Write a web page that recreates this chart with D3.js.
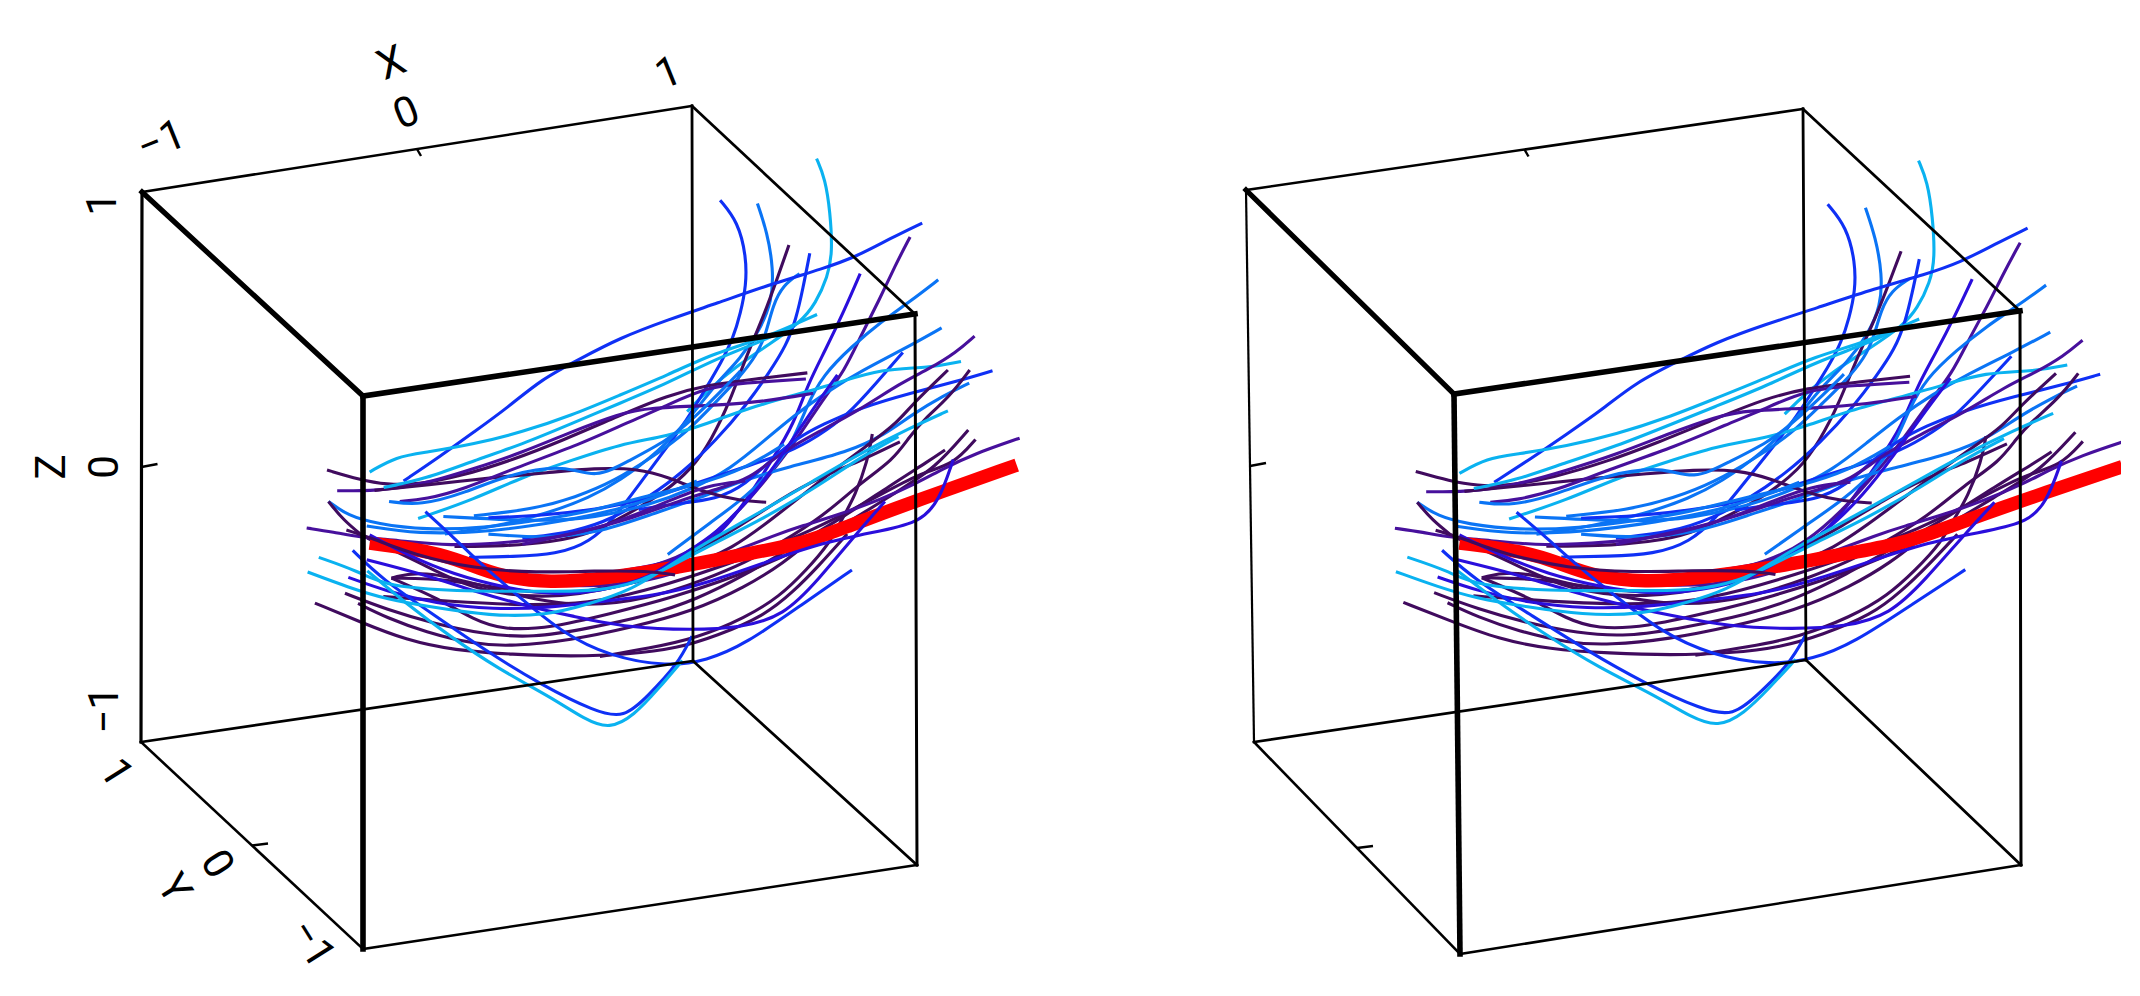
<!DOCTYPE html>
<meta charset="utf-8">
<style>
  html, body { margin: 0; background: #fff; }
  text { font-family: Roboto, sans-serif; font-size: 42px; fill: #000; }
</style>

<body>
  <script src="https://d3js.org/d3.v7.min.js"></script>
  <script>
    // tick labels, axis names (same order as tickValues)
    var tickValues = [-1, 0, 1]
    var tickLabels = ["−1", "0", "1"]

    // fibre tracks in projected units (0..1568 across and down)
    var curvePoints = [
      [[1107,70],[1125,120],[1135,200],[1140,300],[1130,360],[1105,425],[1075,470],[1010,525],[940,580],[880,640],[840,690]],
      [[908,172],[945,225],[962,310],[962,380],[950,450],[935,510],[910,570],[880,630],[840,710],[790,790],[740,870],[690,950],[640,1010],[570,1040],[480,1045],[390,1047]],
      [[985,180],[1005,250],[1018,340],[1015,420],[990,490],[950,560],[900,620],[850,700],[780,790],[700,860],[640,900],[550,940],[450,970],[340,990]],
      [[1050,282],[1030,350],[1000,450],[960,560],[930,660],[890,760],[850,830],[790,890],[720,940],[640,990],[560,1010],[460,1020],[360,1020]],
      [[1093,302],[1079,388],[1065,462],[1045,527],[1010,593],[962,674],[900,760],[830,840],[760,900],[690,950],[610,985],[500,1000]],
      [[1072,352],[1038,380],[1017,429],[1004,494],[985,550],[945,610],[900,665],[840,740],[770,800],[690,860],[610,900],[520,930],[400,945]],
      [[1197,352],[1165,440],[1125,540],[1090,620],[1060,720],[1020,800],[950,930],[900,1000],[830,1050],[760,1070],[680,1085]],
      [[1300,262],[1270,330],[1235,420],[1200,500],[1165,590],[1120,660],[1060,770],[1000,860],[950,930],[880,1010],[800,1060],[700,1090]],
      [[1325,228],[1260,265],[1190,310],[1120,340],[1020,375],[900,425],[800,465],[700,510],[620,560],[540,610],[470,680],[400,740],[330,800],[255,860]],
      [[1358,367],[1300,420],[1240,470],[1180,530],[1120,600],[1085,680],[1060,760],[1020,830],[960,900],[890,960],[800,1040]],
      [[1365,485],[1290,535],[1200,590],[1130,640],[1060,700],[1000,760],[930,830],[850,880],[760,920],[650,950],[540,960],[337,947]],
      [[1285,545],[1230,620],[1170,700],[1110,750],[1050,790],[960,825],[860,865],[760,905],[650,930],[540,945],[430,950]],
      [[1405,567],[1340,583],[1240,585],[1150,620],[1060,650],[970,680],[880,720],[800,750],[700,770],[600,810],[500,850],[400,905],[285,952]],
      [[1422,620],[1370,650],[1300,700],[1250,745],[1170,790],[1050,825],[950,860],[870,900],[770,940],[650,990],[540,1000],[430,990]],
      [[1470,590],[1400,615],[1300,645],[1200,680],[1120,720],[1060,760],[1020,800],[960,870],[900,905],[820,915],[740,930]],
      [[1433,505],[1395,545],[1340,585],[1280,620],[1196,686],[1110,740],[1031,792],[970,855],[900,880],[820,910],[730,950],[620,985],[500,1015]],
      [[1378,588],[1306,670],[1272,719],[1217,768],[1134,841],[1031,939],[930,1030],[840,1070],[700,1120],[560,1150],[400,1130],[290,1060],[180,1000]],
      [[1423,588],[1382,653],[1327,711],[1299,751],[1265,809],[1196,866],[1120,947],[1031,1013],[960,1060],[880,1100],[760,1150],[620,1170],[480,1140],[300,1075],[230,1098]],
      [[97,833],[165,857],[220,869],[282,869],[371,849],[481,808],[578,763],[700,700],[800,650],[880,625],[980,610],[1088,595]],
      [[118,884],[200,884],[290,870],[400,830],[500,790],[600,740],[700,695],[760,680],[900,675],[1000,665],[1100,645]],
      [[195,883],[300,870],[450,850],[550,840],[650,828],[740,830],[800,850],[880,890],[950,908],[1003,912]],
      [[247,910],[300,905],[380,880],[480,830],[620,770],[720,715],[790,680],[880,628],[980,618],[1085,610]],
      [[225,910],[290,920],[380,890],[480,840],[590,820],[650,855],[720,810],[800,760],[850,710],[910,640],[950,590]],
      [[185,838],[240,800],[300,790],[400,770],[500,740],[600,700],[700,650],[800,600],[900,545],[1000,510],[1108,452]],
      [[214,876],[300,855],[400,810],[500,770],[600,720],[700,670],[800,620],[900,560],[1000,515],[1060,480]],
      [[100,910],[140,945],[200,965],[300,980],[420,975],[540,955],[640,935],[760,895],[860,870],[960,830],[1040,770]],
      [[179,970],[282,990],[430,985],[577,960],[700,930],[800,890],[860,860]],
      [[100,910],[130,955],[172,996]],
      [[55,975],[110,985],[165,998],[240,1005],[350,1020],[480,1010],[600,995],[720,950],[800,910],[880,870],[960,860]],
      [[161,1160],[220,1195],[300,1230],[400,1260],[480,1265],[600,1250],[720,1220],[850,1180],[960,1120],[1040,1060],[1100,1000]],
      [[230,1098],[330,1150],[400,1200],[460,1225],[560,1220],[680,1185],[800,1150],[1000,1070],[1150,980],[1280,880],[1350,830],[1420,735]],
      [[213,1143],[350,1155],[500,1165],[640,1160],[750,1130],[860,1090],[980,1040],[1100,980],[1230,900],[1320,840],[1390,820],[1435,758]],
      [[134,1135],[220,1175],[320,1210],[420,1235],[520,1245],[640,1220],[760,1190],[860,1150],[960,1090],[1060,1020],[1160,950],[1260,870],[1340,810],[1372,784]],
      [[72,1159],[165,1205],[260,1250],[360,1275],[480,1285],[600,1290],[720,1285],[820,1270],[900,1240],[1000,1190],[1060,1130],[1110,1070],[1170,990]],
      [[1222,745],[1213,808],[1186,898],[1162,947],[1134,1013],[1086,1078],[1031,1143],[960,1195],[860,1245],[760,1270],[660,1290]],
      [[1279,764],[1200,810],[1117,849],[1031,905],[950,970],[860,1030],[780,1080],[640,1140],[480,1130],[350,1100],[230,1098]],
      [[1526,755],[1431,794],[1366,831],[1313,866],[1237,906],[1162,939],[1072,972],[1031,988],[900,1050],[760,1110],[620,1120],[500,1110]]
    ]
    var curveGroups = ["c","b","a","d","b","a","i","v","b","a","a","b","c","a","b","v","d","d","d","v","d","v","a","c","c","a","a","d","v","d","d","d","d","d","d","d","v"]
    var curveEndDepths = [.1,.65,.6,.8,.6,.6,.7,.5,.15,.3,.35,.4,.15,.25,.2,.25,.3,.3,.15,.2,.4,.2,.3,.1,.1,.4,.3,0,.4,.5,.2,.2,.2,.6,.8,.3,.2]

    // these run in front of the red track
    var overPoints = [
      [[300,935],[360,1000],[420,1070],[500,1150],[580,1230],[680,1290],[800,1315],[880,1300],[960,1260],[1080,1160],[1180,1078]],
      [[185,992],[260,1040],[360,1090],[460,1120],[560,1140],[660,1130],[760,1100],[830,1040],[900,990],[980,890],[1040,790],[1090,700],[1150,600]],
      [[179,1053],[300,1090],[400,1130],[520,1170],[600,1190],[720,1220],[850,1225],[950,1220],[1040,1190],[1110,1103],[1190,988],[1248,910]],
      [[141,1096],[220,1130],[320,1160],[440,1175],[560,1170],[660,1155],[780,1140],[880,1110],[1000,1060],[1120,1010],[1250,980],[1320,960],[1360,910],[1389,807]],
      [[150,1030],[210,1100],[320,1190],[430,1280],[540,1360],[650,1425],[710,1442],[760,1385],[820,1310],[850,1240]],
      [[180,1080],[260,1160],[350,1240],[450,1320],[560,1390],[630,1445],[680,1468],[730,1435],[780,1370],[830,1300]],
      [[80,1047],[160,1080],[220,1120],[380,1130],[450,1130],[560,1130],[650,1130],[740,1110],[820,1060],[900,1010],[1000,950],[1100,880],[1200,800],[1276,751]],
      [[57,1083],[140,1120],[220,1150],[320,1170],[430,1190],[550,1190],[640,1160],[720,1130],[800,1070],[880,1010],[1000,930],[1100,860],[1200,790],[1300,730],[1378,688]],
      [[137,980],[190,1000],[275,1040],[400,1075],[530,1085],[650,1080],[760,1080],[815,1090]]
    ]
    var overGroups = ["b","i","i","i","b","c","c","c","d"]
    var overEndDepths = [.8,.8,.5,.3,1,1,.2,.1,.2]

    var redTrack = [[185,1012],[316,1033],[385,1061],[454,1094],[557,1110],[674,1098],[811,1074],[949,1041],[1073,1016],[1169,972],[1306,911],[1520,821]]

    var groupColor = d3.scaleOrdinal()
      .domain(["d", "v", "i", "b", "a", "c"])
      .range(["#400b5e", "#47109c", "#2a0edc", "#0f30f5", "#0a74f5", "#0ab2f0"])

    var svg = d3.select("body").append("svg")
      .attr("width", 2140)
      .attr("height", 996)
      .style("display", "block")

    svg.append("clipPath").attr("id", "rightClip")
      .append("rect").attr("x", 1200).attr("y", 0).attr("width", 921).attr("height", 996)

    // projected units -> page, left panel
    var xLeft = d3.scaleLinear().domain([0, 1568]).range([280, 1040])
    var yLeft = d3.scaleLinear().domain([0, 1568]).range([130, 770])

    // right panel is the other eye: front and back of the box shift by different amounts
    var xRightFront = d3.scaleLinear().domain([172, 1310]).range([1453, 2018])
    var xRightBack = d3.scaleLinear().domain([-285, 853]).range([1246, 1807])
    var yRight = d3.scaleLinear()
      .domain([70, 280, 505, 1010, 1460, 1568])
      .range([160.6, 250.4, 340.2, 542.2, 723.9, 769])

    function leftPoint(c) {
      return function (p) { return [xLeft(p[0]), yLeft(p[1])] }
    }
    function rightPoint(c, endDepth) {
      var ext = d3.extent(c, function (p) { return p[0] })
      var depth = d3.scaleLinear().domain(ext).range([0, endDepth])
      return function (p) {
        var d = depth(p[0])
        return [xRightFront(p[0]) * (1 - d) + xRightBack(p[0]) * d, yRight(p[1])]
      }
    }

    var track = d3.line().curve(d3.curveBasis)

    function drawTracks(g, side) {
      function pathFor(c, depth) {
        return track(c.map(side == "left" ? leftPoint(c) : rightPoint(c, depth)))
      }
      g.selectAll("path.under")
        .data(curvePoints)
        .enter()
        .append("path")
        .attr("class", "under")
        .attr("fill", "none")
        .attr("stroke-width", 3.1)
        .attr("stroke", function (d, i) { return groupColor(curveGroups[i]) })
        .attr("d", function (d, i) { return pathFor(d, curveEndDepths[i]) })

      g.append("path")
        .attr("fill", "none")
        .attr("stroke", "#ff0000")
        .attr("stroke-width", 13.5)
        .attr("d", pathFor(redTrack, 0))

      g.selectAll("path.over")
        .data(overPoints)
        .enter()
        .append("path")
        .attr("class", "over")
        .attr("fill", "none")
        .attr("stroke-width", 3.1)
        .attr("stroke", function (d, i) { return groupColor(overGroups[i]) })
        .attr("d", function (d, i) { return pathFor(d, overEndDepths[i]) })
    }

    // box corners on the page, key = x,y,z signs
    var leftBox = {
      "---": [363, 949], "+--": [917, 865], "-+-": [141, 742], "++-": [693, 661],
      "--+": [363, 396], "+-+": [915, 314], "-++": [142, 192], "+++": [692, 106]
    }
    var rightBox = {
      "---": [1460, 954], "+--": [2021, 865], "-+-": [1254, 742], "++-": [1806, 660],
      "--+": [1454, 394], "+-+": [2020, 311], "-++": [1246, 190], "+++": [1803, 109]
    }

    var unit = d3.scaleLinear().domain([-1, 1]).range([0, 1])

    // trilinear inside the box
    function project(box, x, y, z) {
      var u = unit(x), v = unit(y), w = unit(z)
      var out = [0, 0]
      ;[0, 1].forEach(function (i) {
        out[i] = ((box["---"][i] * (1 - u) + box["+--"][i] * u) * (1 - v) + (box["-+-"][i] * (1 - u) + box["++-"][i] * u) * v) * (1 - w)
          + ((box["--+"][i] * (1 - u) + box["+-+"][i] * u) * (1 - v) + (box["-++"][i] * (1 - u) + box["+++"][i] * u) * v) * w
      })
      return out
    }

    function drawBox(g, box, backWidth) {
      var edges = [
        ["-++", "+++", 2.6], ["+++", "+-+", 2.8], ["-++", "--+", 5.2], ["--+", "+-+", 5.6],
        ["--+", "---", 5.6], ["+-+", "+--", 3], ["-++", "-+-", backWidth], ["+++", "++-", 2.8],
        ["-+-", "++-", 2.6], ["++-", "+--", 2.8], ["-+-", "---", 2.6], ["---", "+--", 2.6]
      ]
      edges.forEach(function (e) {
        g.append("line")
          .attr("x1", box[e[0]][0]).attr("y1", box[e[0]][1])
          .attr("x2", box[e[1]][0]).attr("y2", box[e[1]][1])
          .attr("stroke", "#000")
          .attr("stroke-linecap", "square")
          .attr("stroke-width", e[2])
      })
      // ticks at 0
      var ticks = [
        [project(box, 0, 1, 1), 4, 7],
        [project(box, -1, 0, -1), 16, -2],
        [project(box, -1, 1, 0), 16, -3]
      ]
      ticks.forEach(function (t) {
        g.append("line")
          .attr("x1", t[0][0]).attr("y1", t[0][1])
          .attr("x2", t[0][0] + t[1]).attr("y2", t[0][1] + t[2])
          .attr("stroke", "#000")
          .attr("stroke-width", 2.4)
      })
    }

    function label(str, px, py, angle) {
      svg.append("text")
        .attr("text-anchor", "middle")
        .attr("dominant-baseline", "central")
        .attr("transform", "translate(" + px + "," + py + ") rotate(" + angle + ")")
        .text(str)
    }

    var leftPanel = svg.append("g")
    var rightPanel = svg.append("g").attr("clip-path", "url(#rightClip)")

    drawTracks(leftPanel, "left")
    drawTracks(rightPanel, "right")
    drawBox(leftPanel, leftBox, 3.2)
    drawBox(rightPanel, rightBox, 2.2)

    // tick labels, left panel only; offsets by tick value -1, 0, 1
    var xOff = [[19, -52], [-11, -37], [-24, -34]]
    var yOff = [[-50, -6], [-34, 18], [-24, 30]]
    var zOff = [[-38, -32], [-38, 0], [-41, 12]]
    tickValues.forEach(function (t, i) {
      var p = project(leftBox, t, 1, 1)
      label(tickLabels[i], p[0] + xOff[i][0], p[1] + xOff[i][1], -22)
      var q = project(leftBox, -1, t, -1)
      label(tickLabels[i], q[0] + yOff[i][0], q[1] + yOff[i][1], 58)
      var r = project(leftBox, -1, 1, t)
      label(tickLabels[i], r[0] + zOff[i][0], r[1] + zOff[i][1], -90)
    })
    label("X", 391, 62, -22)
    label("Y", 175, 888, 58)
    label("Z", 50, 467, -90)
  </script>
</body>
